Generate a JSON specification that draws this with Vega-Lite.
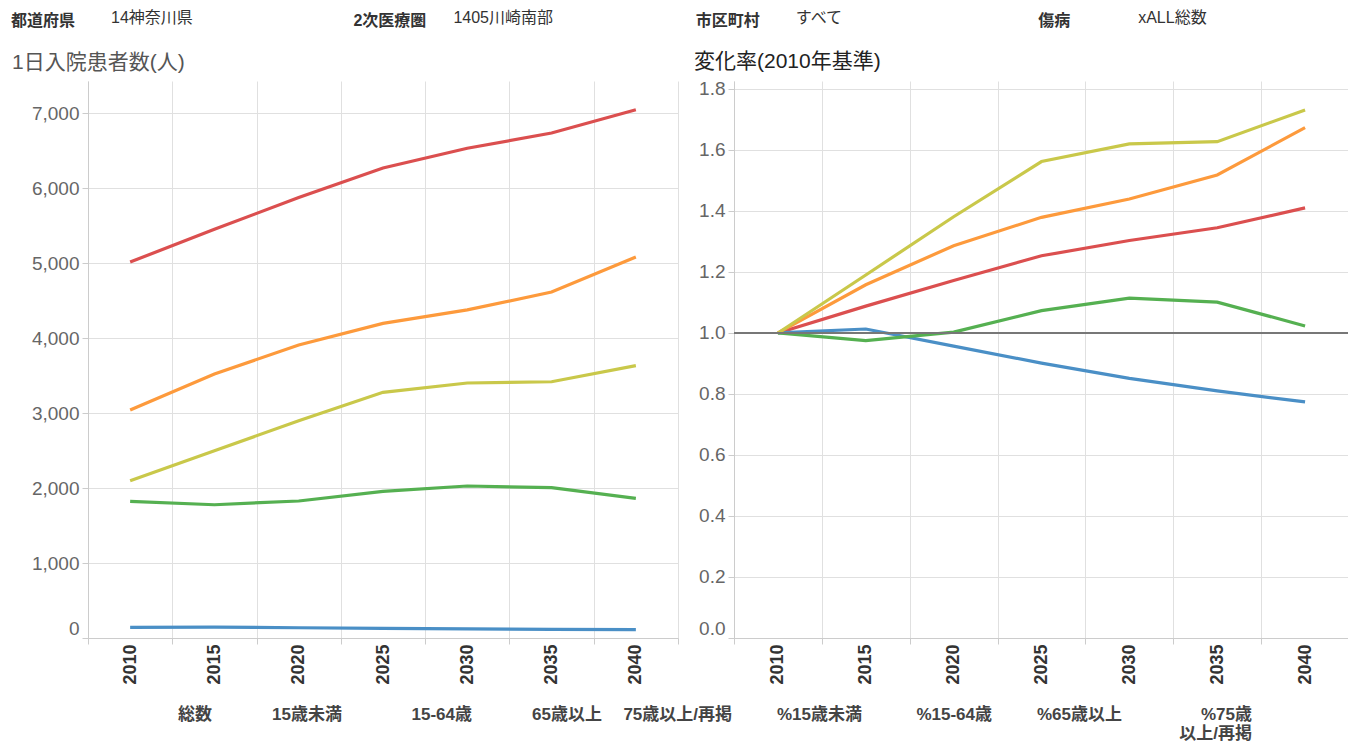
{
  "$schema": "https://vega.github.io/schema/vega-lite/v6.json",
  "padding": 0,
  "background": "white",
  "columns": 1,
  "spacing": 0,
  "config": {
    "view": {"stroke": null},
    "font": "Liberation Sans, Noto Sans CJK JP",
    "concat": {"spacing": 0}
  },
  "datasets": {
    "header": [
      {"label": "都道府県", "value": "14神奈川県"},
      {"label": "2次医療圏", "value": "1405川崎南部"},
      {"label": "市区町村", "value": "すべて"},
      {"label": "傷病", "value": "xALL総数"}
    ],
    "footer": [
      {"item": "総数"},
      {"item": "15歳未満"},
      {"item": "15-64歳"},
      {"item": "65歳以上"},
      {"item": "75歳以上/再掲"},
      {"item": "%15歳未満"},
      {"item": "%15-64歳"},
      {"item": "%65歳以上"},
      {"item": "%75歳\n以上/再掲"}
    ],
    "left": [
      {"year": 2010, "series": "総数", "value": 5013},
      {"year": 2015, "series": "総数", "value": 5450},
      {"year": 2020, "series": "総数", "value": 5872},
      {"year": 2025, "series": "総数", "value": 6267},
      {"year": 2030, "series": "総数", "value": 6530},
      {"year": 2035, "series": "総数", "value": 6733},
      {"year": 2040, "series": "総数", "value": 7044},
      {"year": 2010, "series": "15歳未満", "value": 143},
      {"year": 2015, "series": "15歳未満", "value": 145},
      {"year": 2020, "series": "15歳未満", "value": 137},
      {"year": 2025, "series": "15歳未満", "value": 129},
      {"year": 2030, "series": "15歳未満", "value": 122},
      {"year": 2035, "series": "15歳未満", "value": 116},
      {"year": 2040, "series": "15歳未満", "value": 111},
      {"year": 2010, "series": "15-64歳", "value": 1823},
      {"year": 2015, "series": "15-64歳", "value": 1777},
      {"year": 2020, "series": "15-64歳", "value": 1827},
      {"year": 2025, "series": "15-64歳", "value": 1956},
      {"year": 2030, "series": "15-64歳", "value": 2027},
      {"year": 2035, "series": "15-64歳", "value": 2004},
      {"year": 2040, "series": "15-64歳", "value": 1862},
      {"year": 2010, "series": "65歳以上", "value": 3040},
      {"year": 2015, "series": "65歳以上", "value": 3520},
      {"year": 2020, "series": "65歳以上", "value": 3907},
      {"year": 2025, "series": "65歳以上", "value": 4195},
      {"year": 2030, "series": "65歳以上", "value": 4375},
      {"year": 2035, "series": "65歳以上", "value": 4613},
      {"year": 2040, "series": "65歳以上", "value": 5080},
      {"year": 2010, "series": "75歳以上/再掲", "value": 2097},
      {"year": 2015, "series": "75歳以上/再掲", "value": 2497},
      {"year": 2020, "series": "75歳以上/再掲", "value": 2897},
      {"year": 2025, "series": "75歳以上/再掲", "value": 3276},
      {"year": 2030, "series": "75歳以上/再掲", "value": 3400},
      {"year": 2035, "series": "75歳以上/再掲", "value": 3417},
      {"year": 2040, "series": "75歳以上/再掲", "value": 3631}
    ],
    "right": [
      {"year": 2010, "series": "総数", "ratio": 1.0},
      {"year": 2015, "series": "総数", "ratio": 1.088},
      {"year": 2020, "series": "総数", "ratio": 1.172},
      {"year": 2025, "series": "総数", "ratio": 1.253},
      {"year": 2030, "series": "総数", "ratio": 1.303},
      {"year": 2035, "series": "総数", "ratio": 1.345},
      {"year": 2040, "series": "総数", "ratio": 1.41},
      {"year": 2010, "series": "15歳未満", "ratio": 1.0},
      {"year": 2015, "series": "15歳未満", "ratio": 1.013},
      {"year": 2020, "series": "15歳未満", "ratio": 0.957},
      {"year": 2025, "series": "15歳未満", "ratio": 0.901},
      {"year": 2030, "series": "15歳未満", "ratio": 0.851},
      {"year": 2035, "series": "15歳未満", "ratio": 0.81},
      {"year": 2040, "series": "15歳未満", "ratio": 0.774},
      {"year": 2010, "series": "15-64歳", "ratio": 1.0},
      {"year": 2015, "series": "15-64歳", "ratio": 0.975},
      {"year": 2020, "series": "15-64歳", "ratio": 1.003},
      {"year": 2025, "series": "15-64歳", "ratio": 1.073},
      {"year": 2030, "series": "15-64歳", "ratio": 1.114},
      {"year": 2035, "series": "15-64歳", "ratio": 1.101},
      {"year": 2040, "series": "15-64歳", "ratio": 1.023},
      {"year": 2010, "series": "65歳以上", "ratio": 1.0},
      {"year": 2015, "series": "65歳以上", "ratio": 1.158},
      {"year": 2020, "series": "65歳以上", "ratio": 1.286},
      {"year": 2025, "series": "65歳以上", "ratio": 1.379},
      {"year": 2030, "series": "65歳以上", "ratio": 1.439},
      {"year": 2035, "series": "65歳以上", "ratio": 1.518},
      {"year": 2040, "series": "65歳以上", "ratio": 1.673},
      {"year": 2010, "series": "75歳以上/再掲", "ratio": 1.0},
      {"year": 2015, "series": "75歳以上/再掲", "ratio": 1.19},
      {"year": 2020, "series": "75歳以上/再掲", "ratio": 1.381},
      {"year": 2025, "series": "75歳以上/再掲", "ratio": 1.562},
      {"year": 2030, "series": "75歳以上/再掲", "ratio": 1.62},
      {"year": 2035, "series": "75歳以上/再掲", "ratio": 1.627},
      {"year": 2040, "series": "75歳以上/再掲", "ratio": 1.731}
    ]
  },
  "concat": [
    {
      "width": 1260,
      "height": 50,
      "data": {"name": "header"},
      "layer": [
        {
          "mark": {"type": "text", "align": "left", "baseline": "middle", "fontSize": 16, "fontWeight": "bold", "color": "#333", "dx": -77, "dy": -4},
          "encoding": {
            "x": {"field": "label", "type": "nominal", "sort": null, "bandPosition": 0, "scale": {"type": "band", "paddingInner": 0.32, "paddingOuter": 0}, "axis": null},
            "text": {"field": "label"}
          }
        },
        {
          "mark": {"type": "text", "align": "left", "baseline": "middle", "fontSize": 16, "color": "#333", "dx": 23, "dy": -7},
          "encoding": {
            "x": {"field": "label", "type": "nominal", "sort": null, "bandPosition": 0, "scale": {"type": "band", "paddingInner": 0.32, "paddingOuter": 0}, "axis": null},
            "text": {"field": "value"}
          }
        }
      ]
    },
    {
      "hconcat": [
        {
          "width": 590,
          "height": 557,
          "title": {"text": "1日入院患者数(人)", "anchor": "start", "frame": "bounds", "dx": 12, "fontSize": 21, "fontWeight": "normal", "color": "#555", "offset": 8},
          "data": {"name": "left"},
          "mark": {"type": "line", "strokeWidth": 3.2},
          "encoding": {
            "x": {
              "field": "year", "type": "ordinal", "bandPosition": 0.5,
              "scale": {"type": "band", "paddingInner": 0, "paddingOuter": 0},
              "axis": {"title": null, "labelAngle": 270, "tickBand": "extent", "grid": true, "gridColor": "#e0e0e0", "domainColor": "#ccc", "tickColor": "#ccc", "tickSize": 6, "labelFontSize": 18, "labelFontWeight": "bold", "labelColor": "#333", "labelPadding": 0}
            },
            "y": {
              "field": "value", "type": "quantitative",
              "scale": {"domain": [0, 7427], "nice": false, "zero": false},
              "axis": {"title": null, "values": [0, 1000, 2000, 3000, 4000, 5000, 6000, 7000], "format": ",.0f", "labelFontSize": 19, "labelColor": "#666", "gridColor": "#e0e0e0", "domainColor": "#ccc", "tickColor": "#ccc", "tickSize": 6, "labelPadding": 3, "minExtent": 88, "maxExtent": 88, "labelFlush": 1}
            },
            "color": {
              "field": "series", "type": "nominal",
              "scale": {"domain": ["総数", "15歳未満", "15-64歳", "65歳以上", "75歳以上/再掲"], "range": ["#db4f4f", "#4a8fc6", "#55b051", "#fd9a3c", "#c9c84a"]},
              "legend": null
            }
          }
        },
        {
          "width": 615,
          "height": 557,
          "title": {"text": "変化率(2010年基準)", "anchor": "start", "frame": "bounds", "dx": 15, "fontSize": 21, "fontWeight": "normal", "color": "#222", "offset": 8},
          "data": {"name": "right"},
          "layer": [
            {
              "mark": {"type": "line", "strokeWidth": 3.2},
              "encoding": {
                "x": {
                  "field": "year", "type": "ordinal", "bandPosition": 0.5,
                  "scale": {"type": "band", "paddingInner": 0, "paddingOuter": 0},
                  "axis": {"title": null, "labelAngle": 270, "tickBand": "extent", "grid": true, "gridColor": "#e0e0e0", "domainColor": "#ccc", "tickColor": "#ccc", "tickSize": 6, "labelFontSize": 18, "labelFontWeight": "bold", "labelColor": "#333", "labelPadding": 0}
                },
                "y": {
                  "field": "ratio", "type": "quantitative",
                  "scale": {"domain": [0, 1.826], "nice": false, "zero": false},
                  "axis": {"title": null, "values": [0, 0.2, 0.4, 0.6, 0.8, 1.0, 1.2, 1.4, 1.6, 1.8], "format": ".1f", "labelFontSize": 19, "labelColor": "#666", "gridColor": "#e0e0e0", "domainColor": "#ccc", "tickColor": "#ccc", "tickSize": 6, "labelPadding": 3, "minExtent": 55, "maxExtent": 55, "labelFlush": 1}
                },
                "color": {
                  "field": "series", "type": "nominal",
                  "scale": {"domain": ["総数", "15歳未満", "15-64歳", "65歳以上", "75歳以上/再掲"], "range": ["#db4f4f", "#4a8fc6", "#55b051", "#fd9a3c", "#c9c84a"]},
                  "legend": null
                }
              }
            },
            {
              "mark": {"type": "rule", "color": "#777", "strokeWidth": 2, "opacity": 0.85},
              "encoding": {"y": {"datum": 1}}
            }
          ]
        }
      ]
    },
    {
      "width": 1260,
      "height": 50,
      "data": {"name": "footer"},
      "mark": {"type": "text", "align": "right", "baseline": "top", "fontSize": 17, "fontWeight": "bold", "color": "#444", "lineBreak": "\n", "lineHeight": 19, "dx": -6, "dy": -3},
      "encoding": {
        "x": {"field": "item", "type": "nominal", "sort": null, "bandPosition": 1, "scale": {"type": "band", "paddingInner": 0, "paddingOuter": 0.346, "align": 0}, "axis": null},
        "text": {"field": "item"}
      }
    }
  ]
}
